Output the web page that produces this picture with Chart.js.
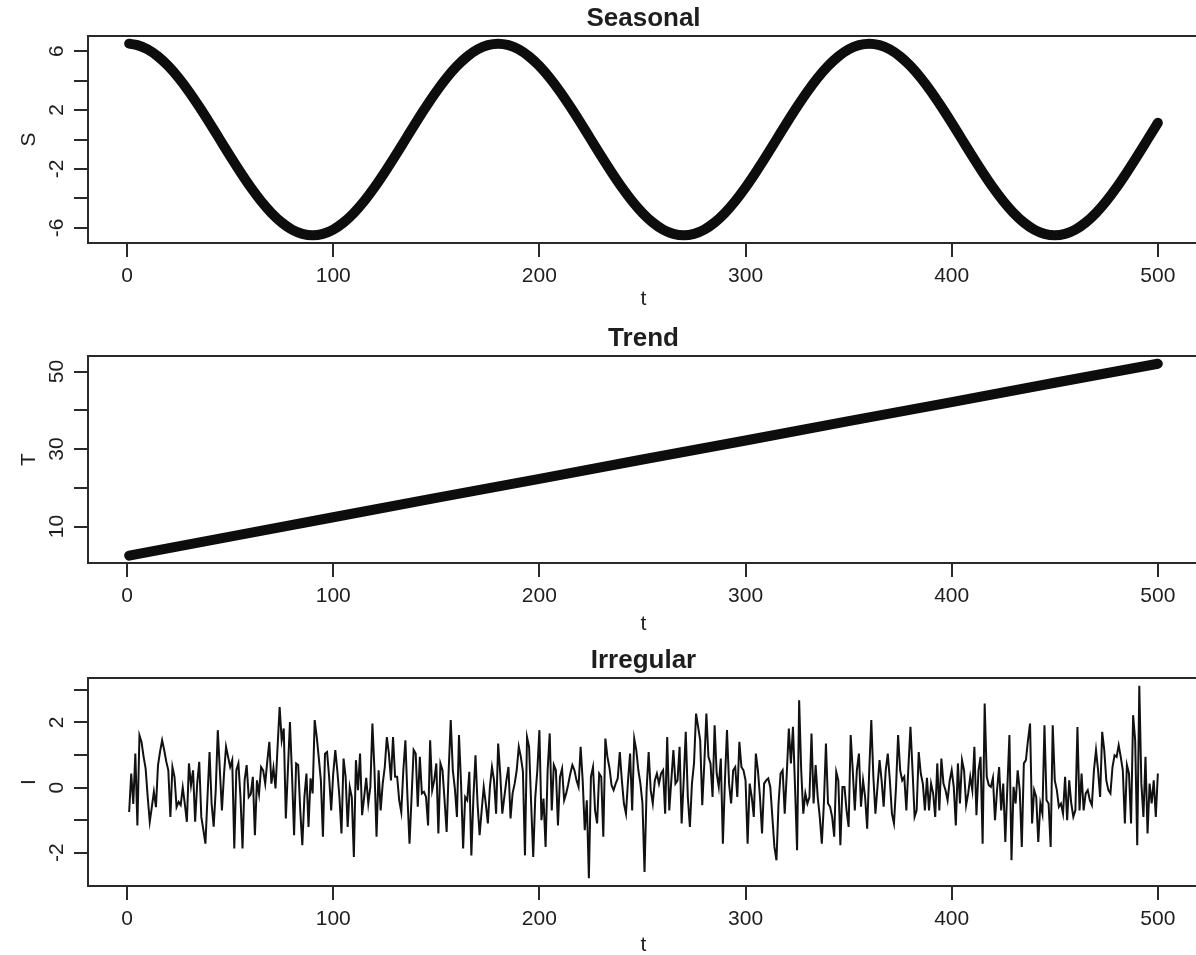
<!DOCTYPE html>
<html><head><meta charset="utf-8">
<script src="https://cdn.jsdelivr.net/npm/chart.js@4/dist/chart.umd.min.js"></script>
<style>
html,body{margin:0;padding:0;background:#fff;overflow:hidden;width:1196px;height:955px;position:relative;}
canvas{position:absolute;left:0;display:block;}
</style></head><body>
<canvas id="c1" width="1210" height="320" style="top:0px;width:1210px;height:320px"></canvas>
<canvas id="c2" width="1210" height="320" style="top:320px;width:1210px;height:320px"></canvas>
<canvas id="c3" width="1210" height="315" style="top:640px;width:1210px;height:315px"></canvas>
<script>
// ---------- data ----------
const xTickValues = [0, 100, 200, 300, 400, 500];

const seasonT = [1,5,10,15,20,25,30,35,40,45,50,55,60,65,70,75,80,85,90,95,100,105,110,115,120,125,130,135,140,145,150,155,160,165,170,175,180,185,190,195,200,205,210,215,220,225,230,235,240,245,250,255,260,265,270,275,280,285,290,295,300,305,310,315,320,325,330,335,340,345,350,355,360,365,370,375,380,385,390,395,400,405,410,415,420,425,430,435,440,445,450,455,460,465,470,475,480,485,490,495,500];
const seasonS = [6.50,
 6.40,6.11,5.63,4.98,4.18,3.25,2.22,1.13,0.00,-1.13,-2.22,-3.25,-4.18,-4.98,-5.63,-6.11,-6.40,-6.50,-6.40,-6.11,-5.63,-4.98,-4.18,-3.25,-2.22,-1.13,0.00,1.13,2.22,3.25,4.18,4.98,5.63,6.11,6.40,
 6.50,6.40,6.11,5.63,4.98,4.18,3.25,2.22,1.13,0.00,-1.13,-2.22,-3.25,-4.18,-4.98,-5.63,-6.11,-6.40,-6.50,-6.40,-6.11,-5.63,-4.98,-4.18,-3.25,-2.22,-1.13,0.00,1.13,2.22,3.25,4.18,4.98,5.63,6.11,6.40,
 6.50,6.40,6.11,5.63,4.98,4.18,3.25,2.22,1.13,0.00,-1.13,-2.22,-3.25,-4.18,-4.98,-5.63,-6.11,-6.40,-6.50,-6.40,-6.11,-5.63,-4.98,-4.18,-3.25,-2.22,-1.13,0.00,1.13];
const seasonYTicks = [-6,-4,-2,0,2,4,6];
const seasonYLabels = [-6,-2,2,6];

const trendT = [1,50,100,150,200,250,300,350,400,450,500];
const trendV = [2.5,7.4,12.4,17.4,22.3,27.3,32.2,37.2,42.1,47.1,52.0];
const trendYTicks = [10,20,30,40,50];
const trendYLabels = [10,30,50];

const irregularI = [
-0.75,0.43,-0.50,1.04,-1.16,1.60,1.40,0.95,0.58,-0.29,
-1.05,-0.60,-0.13,-0.60,0.69,1.10,1.45,1.15,0.80,0.53,
-0.90,0.63,0.33,-0.60,-0.44,-0.54,0.00,-0.50,-1.05,0.74,
0.07,0.53,-1.05,0.12,0.79,-0.90,-1.30,-1.72,-0.29,1.09,
-0.49,-1.20,-0.08,1.76,0.53,-0.70,0.40,1.25,0.94,0.63,
0.84,-1.87,0.53,0.74,-0.29,-1.87,0.22,0.69,-0.29,-0.20,
0.33,-1.46,0.22,-0.20,0.63,0.53,0.12,0.80,1.40,0.12,
0.60,-0.03,1.25,2.47,1.45,1.81,-0.95,0.53,2.01,0.40,
-1.46,0.74,0.69,-0.70,-1.77,-0.30,0.43,-1.21,0.28,-0.18,
2.07,1.55,0.90,0.22,-1.51,1.04,1.09,0.33,-0.70,0.43,
1.15,0.50,-0.29,-1.41,0.89,0.33,-1.21,0.02,-0.29,-2.13,
0.84,-0.08,1.04,-0.85,-0.29,0.30,-0.49,0.02,1.96,0.53,
-1.51,0.53,-0.70,0.12,0.63,1.55,
1.04,0.22,1.55,0.33,0.33,-0.39,-0.75,0.53,1.45,-0.29,
-1.72,-0.29,1.15,1.04,-0.59,0.94,-0.18,-0.13,-0.29,-1.16,
1.45,-0.08,0.22,0.74,-1.41,0.74,0.53,-0.39,-1.36,0.53,
2.07,0.53,-0.03,-0.90,1.61,0.12,-1.87,-0.29,-0.39,0.48,
-2.08,-0.29,0.99,-0.49,-1.46,-0.70,0.02,-0.49,-1.10,0.02,
0.63,0.22,-0.80,1.35,0.43,-0.80,-0.29,0.22,0.63,-0.95,
-0.18,0.12,0.53,1.25,0.94,0.50,
-2.08,1.55,1.25,-0.49,-2.13,-0.30,0.53,1.76,-1.00,-0.34,
-1.82,0.53,1.66,-0.70,0.69,0.53,-1.16,0.33,0.58,-0.39,
-0.18,0.10,0.43,0.69,0.53,0.22,0.02,1.25,0.22,-1.31,
-0.39,-2.78,0.33,0.63,-0.70,-1.10,0.43,0.33,-1.51,1.50,
0.94,0.60,0.07,-0.08,0.12,0.28,1.09,0.22,-0.49,-0.80,
0.22,1.04,-0.70,1.50,1.15,0.53,0.12,-0.49,-2.59,-0.08,
1.09,-0.08,-0.49,0.22,0.43,
0.12,0.43,0.53,-0.80,1.55,-0.70,0.22,1.15,0.12,0.22,
1.25,-1.10,0.22,1.71,-0.29,-1.21,0.12,0.74,2.27,1.86,
1.45,-0.54,0.74,2.27,0.94,0.74,-0.29,1.91,0.43,0.02,
0.89,-1.72,0.22,1.76,0.12,-0.49,0.53,0.63,-0.29,1.40,
0.63,0.53,0.22,-1.72,0.12,-0.29,-0.90,1.04,0.53,-0.29,
-1.41,0.12,0.22,0.28,0.02,-0.90,-1.82,-2.23,-0.49,0.43,
0.53,-0.80,0.43,1.81,0.74,
1.86,0.02,-1.92,2.68,0.53,-0.80,-0.18,-0.49,-0.29,1.66,
-0.49,0.69,-0.29,-0.90,-1.72,-0.49,1.35,-0.49,-0.59,-0.90,
-1.51,0.48,0.22,-1.77,0.02,0.02,-0.70,-1.21,1.61,0.53,
-0.70,0.53,1.04,-0.59,0.22,-0.29,-1.26,0.53,2.07,0.33,
-0.80,0.02,0.84,0.22,-0.59,0.53,1.04,0.22,-0.80,-1.10,
0.02,1.61,0.53,0.22,0.33,-0.70,0.63,1.86,0.53,-0.90,
-0.70,1.09,0.43,0.12,-0.70,0.30,
-0.70,0.12,-0.18,-0.90,0.74,-0.70,0.89,0.12,-0.08,-0.39,
0.20,0.53,0.02,-1.16,0.74,-0.49,0.84,0.53,-0.54,-0.18,
0.33,-0.08,1.25,-0.85,0.53,0.94,-1.72,2.58,0.33,0.07,
0.02,0.30,-1.00,-0.08,0.63,-0.70,0.12,-1.67,0.02,1.61,
-2.23,0.02,-0.49,0.53,-0.08,-1.82,0.74,0.84,1.45,1.96,
-1.10,-0.08,-0.29,-1.67,-0.49,-0.80,1.91,-0.39,-0.49,-1.82,
1.91,0.22,-0.08,-0.59,-0.49,
-0.80,0.33,-1.00,0.22,-0.49,-0.90,-0.70,1.86,-0.70,0.43,
-0.70,-0.18,-0.08,-0.39,-0.54,0.53,1.15,0.53,-0.29,1.71,
1.15,0.22,-0.08,-0.18,0.63,0.99,0.94,1.30,0.94,0.53,
-1.10,0.69,0.43,-1.10,2.22,1.45,-1.77,3.12,0.12,-0.90,
0.94,-1.41,0.12,-0.49,0.22,-0.90,0.43];
const irregularYTicks = [-2,-1,0,1,2,3];
const irregularYLabels = [-2,0,2];

// ---------- drawing ----------
const FONT = '"Liberation Sans", Arial, Helvetica, sans-serif';
const INK = '#1e1e1e';

const rPlot = {
  id: 'rPlot',
  afterDraw(chart, args, o) {
    const ctx = chart.ctx, a = chart.chartArea, xs = chart.scales.x, ys = chart.scales.y;
    ctx.save();
    ctx.strokeStyle = '#2a2a2a';
    ctx.lineWidth = 2;
    ctx.strokeRect(a.left, a.top, a.right - a.left, a.bottom - a.top);
    ctx.beginPath();
    xTickValues.forEach(v => {
      const px = Math.round(xs.getPixelForValue(v));
      ctx.moveTo(px, a.bottom); ctx.lineTo(px, a.bottom + 14);
    });
    o.yTicks.forEach(v => {
      const py = Math.round(ys.getPixelForValue(v));
      ctx.moveTo(a.left - 14, py); ctx.lineTo(a.left, py);
    });
    ctx.stroke();

    ctx.fillStyle = INK;
    ctx.textAlign = 'center';
    ctx.textBaseline = 'middle';
    ctx.font = '21px ' + FONT;
    xTickValues.forEach(v => {
      ctx.fillText(String(v), xs.getPixelForValue(v), a.bottom + 33);
    });
    ctx.fillText('t', (a.left + a.right) / 2, a.bottom + o.tOff);
    o.yLabels.forEach(v => {
      ctx.save();
      ctx.translate(57, ys.getPixelForValue(v));
      ctx.rotate(-Math.PI / 2);
      ctx.fillText(String(v), 0, 0);
      ctx.restore();
    });
    ctx.save();
    ctx.translate(29, (a.top + a.bottom) / 2);
    ctx.rotate(-Math.PI / 2);
    ctx.fillText(o.ylab, 0, 0);
    ctx.restore();

    ctx.font = 'bold 26px ' + FONT;
    ctx.fillText(o.title, (a.left + a.right) / 2, a.top - 17);
    ctx.restore();
  }
};

function makeChart(id, datasets, ymin, ymax, pad, cfg) {
  return new Chart(document.getElementById(id), {
    type: 'line',
    data: { datasets },
    options: {
      responsive: false, animation: false, events: [],
      layout: { padding: pad },
      plugins: { legend: { display: false }, tooltip: { enabled: false }, title: { display: false }, rPlot: cfg },
      scales: {
        x: { type: 'linear', min: -18.96, max: 519.96, display: false },
        y: { type: 'linear', min: ymin, max: ymax, display: false }
      }
    },
    plugins: [rPlot]
  });
}

makeChart('c1', [{
  data: seasonT.map((t, i) => ({ x: t, y: seasonS[i] })),
  borderColor: '#0d0d0d', borderWidth: 10, pointRadius: 0,
  cubicInterpolationMode: 'monotone', borderCapStyle: 'round', borderJoinStyle: 'round', fill: false
}], -7.02, 7.02, { left: 88, right: 11, top: 36, bottom: 77 },
  { title: 'Seasonal', ylab: 'S', yTicks: seasonYTicks, yLabels: seasonYLabels, tOff: 56 });

makeChart('c2', [{
  data: trendT.map((t, i) => ({ x: t, y: trendV[i] })),
  borderColor: '#0d0d0d', borderWidth: 10, pointRadius: 0,
  borderCapStyle: 'round', borderJoinStyle: 'round', fill: false
}], 0.6, 54.0, { left: 88, right: 11, top: 36, bottom: 77 },
  { title: 'Trend', ylab: 'T', yTicks: trendYTicks, yLabels: trendYLabels, tOff: 61 });

makeChart('c3', [{
  data: irregularI.map((v, i) => ({ x: i + 1, y: v })),
  borderColor: '#111', borderWidth: 2, pointRadius: 0, tension: 0, fill: false,
  borderJoinStyle: 'miter'
}], -3.02, 3.36, { left: 88, right: 11, top: 38, bottom: 69 },
  { title: 'Irregular', ylab: 'I', yTicks: irregularYTicks, yLabels: irregularYLabels, tOff: 59 });
</script>
</body></html>
